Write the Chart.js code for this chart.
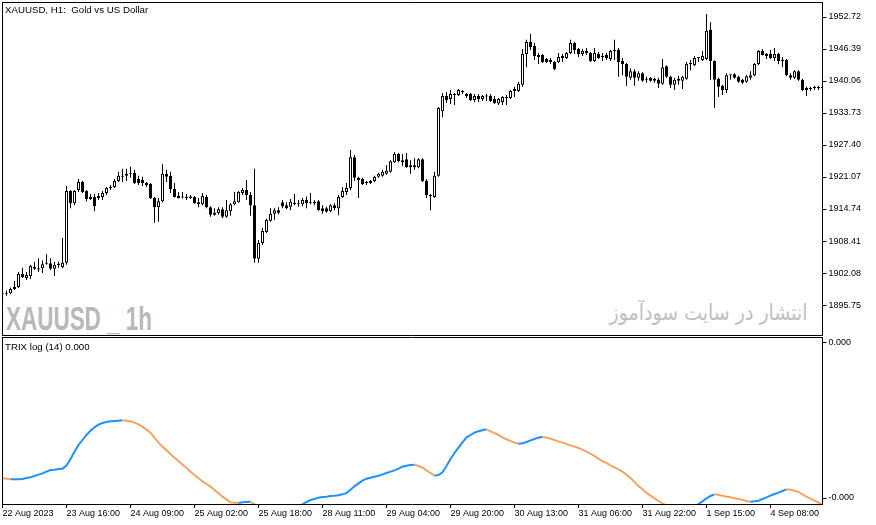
<!DOCTYPE html>
<html>
<head>
<meta charset="utf-8">
<title>XAUUSD H1 - TRIX</title>
<script src="https://cdn.jsdelivr.net/npm/chart.js@4.4.1/dist/chart.umd.min.js"></script>
<style>
    html, body { margin: 0; padding: 0; background: #fff; }
    #wrap { position: relative; width: 876px; height: 525px; overflow: hidden; font-family: "Liberation Sans", Arial, sans-serif; }
    #priceCanvas { position: absolute; left: 0; top: 0; }
    #trixCanvas { position: absolute; left: 0; top: 337px; }
    .txt { position: absolute; white-space: pre; color: #000; font-size: 9.7px; line-height: 12px; }
    .mark { position: absolute; white-space: pre; line-height: 1; }
    #markSymbol { left: 6px; top: 301px; font-size: 34px; font-weight: bold; color: #b8b8b8; transform-origin: left top; }
    #markSite { right: 68px; top: 302px; font-size: 22px; font-family: "DejaVu Sans", sans-serif; color: #c0c0c0; transform-origin: right top; }
</style>
</head>
<body>
<div id="wrap">
    <div class="mark" id="markSymbol">XAUUSD _ 1h</div>
    <div class="mark" id="markSite" dir="rtl">انتشار در سایت سودآموز</div>
    <canvas id="priceCanvas" width="876" height="337"></canvas>
    <canvas id="trixCanvas" width="876" height="188"></canvas>
    <div class="txt" style="left:5px; top:4px;">XAUUSD, H1:  Gold vs US Dollar</div>
    <div class="txt" style="left:5px; top:341px;">TRIX log (14) 0.000</div>
</div>
<script>
const xTickLabels = ["22 Aug 2023", "23 Aug 16:00", "24 Aug 09:00", "25 Aug 02:00", "25 Aug 18:00",
    "28 Aug 11:00", "29 Aug 04:00", "29 Aug 20:00", "30 Aug 13:00", "31 Aug 06:00",
    "31 Aug 22:00", "1 Sep 15:00", "4 Sep 08:00"];

const priceTicks = [1952.72, 1946.39, 1940.06, 1933.73, 1927.40, 1921.07, 1914.74, 1908.41, 1902.08, 1895.75];

const trixTickValues = [-0.000012, -0.000477];
const trixTickLabels = ["0.000", "-0.000"];

const openPrices = [
    1897.9, 1898.0, 1898.1, 1898.9, 1899.3, 1901.9, 1901.1, 1901.5, 1903.3, 1903.0,
    1903.0, 1904.1, 1904.0, 1902.9, 1903.6, 1903.2, 1904.1, 1918.3, 1915.9, 1918.5,
    1920.1, 1918.3, 1917.1, 1917.1, 1916.9, 1917.1, 1917.9, 1918.9, 1919.1, 1920.3,
    1921.1, 1921.3, 1921.7, 1921.9, 1920.7, 1920.5, 1919.9, 1919.7, 1916.9, 1915.1,
    1916.3, 1921.7, 1921.3, 1918.7, 1917.3, 1917.0, 1917.1, 1917.2, 1917.1, 1916.1,
    1915.7, 1917.1, 1915.1, 1914.0, 1913.9, 1914.7, 1913.2, 1914.3, 1915.7, 1916.1,
    1917.9, 1918.5, 1917.5, 1915.5, 1904.9, 1908.0, 1910.2, 1912.4, 1913.8, 1914.5,
    1916.1, 1915.5, 1915.2, 1916.0, 1915.7, 1915.7, 1916.5, 1916.0, 1916.2, 1916.3,
    1914.9, 1914.9, 1914.3, 1915.5, 1914.9, 1917.1, 1918.1, 1918.9, 1925.0, 1920.9,
    1920.7, 1919.9, 1919.9, 1920.3, 1921.1, 1921.3, 1921.7, 1922.1, 1924.0, 1925.6,
    1924.4, 1924.6, 1923.4, 1923.4, 1923.0, 1924.6, 1920.3, 1917.5, 1917.1, 1921.3,
    1934.1, 1937.1, 1936.5, 1937.3, 1937.3, 1938.1, 1937.5, 1937.5, 1936.3, 1937.1,
    1936.5, 1937.1, 1937.1, 1936.5, 1935.6, 1935.9, 1936.7, 1936.7, 1938.1, 1938.1,
    1939.3, 1945.4, 1947.8, 1947.0, 1945.2, 1945.2, 1944.4, 1944.2, 1943.8, 1943.8,
    1944.6, 1944.6, 1945.6, 1947.6, 1946.4, 1945.4, 1946.0, 1945.6, 1944.0, 1945.4,
    1944.8, 1945.2, 1944.4, 1946.0, 1946.2, 1944.0, 1943.4, 1940.7, 1942.0, 1940.7,
    1941.6, 1940.3, 1940.7, 1940.5, 1940.3, 1939.5, 1943.0, 1940.9, 1939.3, 1940.1,
    1940.1, 1940.5, 1943.4, 1943.2, 1944.6, 1944.2, 1944.4, 1950.2, 1944.0, 1940.5,
    1939.1, 1938.3, 1941.2, 1941.4, 1940.9, 1940.3, 1939.9, 1940.7, 1941.2, 1943.4,
    1946.0, 1945.4, 1945.4, 1944.6, 1945.4, 1944.2, 1944.2, 1941.2, 1940.7, 1942.0,
    1940.3, 1938.7, 1938.5, 1938.7, 1938.7, 1938.7
];

const highPrices = [
    1898.1, 1898.6, 1899.2, 1900.5, 1902.3, 1903.1, 1902.3, 1903.7, 1904.3, 1905.0,
    1904.6, 1905.8, 1905.0, 1904.3, 1904.3, 1909.0, 1919.3, 1918.5, 1918.5, 1920.7,
    1920.3, 1918.5, 1917.7, 1917.7, 1917.9, 1918.3, 1919.1, 1919.5, 1920.7, 1922.1,
    1922.7, 1922.7, 1923.1, 1922.5, 1921.3, 1921.1, 1920.1, 1919.9, 1917.1, 1916.9,
    1923.6, 1922.5, 1922.1, 1919.9, 1918.1, 1918.1, 1917.7, 1917.5, 1917.3, 1916.9,
    1917.9, 1917.5, 1915.3, 1914.9, 1915.1, 1915.1, 1916.5, 1915.9, 1918.1, 1918.3,
    1918.9, 1920.5, 1918.1, 1922.7, 1908.6, 1911.0, 1912.8, 1914.9, 1914.9, 1915.1,
    1916.5, 1916.1, 1916.7, 1917.7, 1916.5, 1916.9, 1917.2, 1917.9, 1916.5, 1916.5,
    1915.5, 1915.2, 1915.7, 1915.9, 1917.5, 1919.1, 1919.9, 1926.4, 1925.4, 1921.1,
    1920.9, 1920.3, 1920.5, 1921.3, 1921.9, 1922.5, 1923.4, 1924.4, 1926.0, 1925.8,
    1925.6, 1925.8, 1924.4, 1924.8, 1924.8, 1924.8, 1920.7, 1917.7, 1922.1, 1934.9,
    1937.7, 1937.9, 1938.3, 1937.7, 1938.5, 1938.3, 1937.7, 1937.7, 1937.5, 1937.5,
    1937.3, 1937.5, 1937.5, 1937.1, 1936.7, 1937.1, 1937.3, 1938.3, 1938.9, 1939.9,
    1946.4, 1948.2, 1949.4, 1947.6, 1945.6, 1945.4, 1944.6, 1944.6, 1944.0, 1945.6,
    1945.4, 1945.8, 1948.2, 1947.8, 1946.6, 1946.4, 1946.6, 1945.8, 1946.6, 1945.8,
    1945.6, 1945.6, 1946.2, 1948.2, 1946.6, 1944.6, 1943.6, 1942.6, 1942.4, 1942.0,
    1941.8, 1940.9, 1940.8, 1940.7, 1940.7, 1944.4, 1943.2, 1941.1, 1940.7, 1941.1,
    1941.1, 1943.8, 1944.2, 1945.0, 1944.7, 1946.0, 1953.3, 1951.7, 1944.1, 1940.7,
    1939.3, 1941.6, 1941.3, 1941.6, 1941.1, 1940.5, 1941.2, 1942.0, 1943.6, 1946.2,
    1946.4, 1945.6, 1946.2, 1946.6, 1945.6, 1944.8, 1944.4, 1941.6, 1942.2, 1942.2,
    1940.5, 1938.9, 1938.9, 1939.1, 1939.1, 1939.1
];

const lowPrices = [
    1897.7, 1897.6, 1897.9, 1898.7, 1899.1, 1901.1, 1900.7, 1900.9, 1902.7, 1902.3,
    1902.1, 1903.7, 1902.7, 1901.5, 1903.1, 1903.0, 1903.7, 1914.9, 1915.5, 1918.1,
    1917.9, 1916.3, 1916.5, 1914.3, 1916.5, 1916.5, 1917.5, 1918.5, 1918.9, 1920.1,
    1920.1, 1920.3, 1920.9, 1919.7, 1919.5, 1919.3, 1919.1, 1916.7, 1912.0, 1912.2,
    1916.1, 1920.1, 1917.9, 1917.0, 1916.8, 1916.8, 1916.5, 1916.7, 1915.8, 1915.1,
    1915.5, 1914.9, 1913.2, 1913.4, 1913.6, 1912.9, 1913.0, 1913.4, 1915.5, 1916.0,
    1917.5, 1916.5, 1913.4, 1904.1, 1904.1, 1907.6, 1910.0, 1912.2, 1912.6, 1913.7,
    1914.9, 1914.7, 1914.5, 1915.5, 1915.2, 1915.3, 1914.9, 1915.7, 1915.5, 1914.4,
    1913.8, 1914.0, 1914.1, 1914.5, 1913.5, 1916.9, 1917.5, 1918.5, 1920.3, 1916.9,
    1919.5, 1919.5, 1919.7, 1920.1, 1920.9, 1921.1, 1921.5, 1921.9, 1923.9, 1924.0,
    1923.2, 1922.9, 1921.7, 1922.5, 1922.8, 1920.1, 1916.9, 1914.5, 1916.9, 1921.1,
    1932.9, 1935.7, 1935.5, 1935.3, 1937.1, 1937.5, 1936.7, 1936.1, 1935.9, 1935.9,
    1936.1, 1936.1, 1935.9, 1935.5, 1935.3, 1935.3, 1935.3, 1936.5, 1936.9, 1937.9,
    1938.9, 1942.8, 1946.2, 1944.2, 1943.4, 1943.6, 1943.6, 1943.4, 1942.2, 1943.6,
    1943.8, 1944.4, 1945.4, 1945.4, 1944.8, 1945.0, 1945.2, 1943.8, 1943.8, 1944.4,
    1944.0, 1944.2, 1944.0, 1944.2, 1940.9, 1941.2, 1939.1, 1940.3, 1939.1, 1940.1,
    1939.9, 1939.7, 1939.9, 1939.7, 1938.7, 1939.3, 1940.7, 1938.7, 1938.3, 1939.3,
    1938.5, 1940.3, 1942.2, 1943.0, 1943.8, 1944.0, 1944.2, 1940.3, 1934.7, 1936.9,
    1937.3, 1937.7, 1940.3, 1940.5, 1939.7, 1939.5, 1939.7, 1940.3, 1941.0, 1943.2,
    1945.1, 1944.4, 1944.4, 1944.0, 1943.4, 1942.8, 1941.0, 1940.3, 1940.5, 1940.1,
    1938.1, 1937.1, 1938.1, 1938.3, 1938.3, 1938.3
];

const closePrices = [
    1898.0, 1898.2, 1898.9, 1899.3, 1901.9, 1901.3, 1901.7, 1903.5, 1902.9, 1902.8,
    1903.8, 1903.9, 1902.9, 1903.7, 1903.9, 1904.1, 1918.3, 1915.9, 1918.3, 1920.1,
    1918.1, 1916.7, 1916.7, 1915.3, 1917.3, 1917.9, 1918.9, 1919.1, 1920.3, 1921.3,
    1921.3, 1921.7, 1921.9, 1919.9, 1919.9, 1919.9, 1919.5, 1916.9, 1915.1, 1916.3,
    1921.7, 1921.1, 1918.7, 1917.1, 1916.9, 1917.1, 1916.9, 1916.9, 1915.9, 1915.7,
    1917.3, 1915.1, 1913.6, 1913.6, 1914.7, 1913.2, 1914.5, 1915.7, 1916.3, 1918.1,
    1918.5, 1917.5, 1915.5, 1904.9, 1908.0, 1910.4, 1912.6, 1913.8, 1914.5, 1914.0,
    1915.3, 1914.9, 1916.2, 1915.7, 1915.7, 1916.5, 1915.9, 1916.1, 1915.9, 1914.5,
    1914.3, 1914.2, 1915.5, 1914.9, 1917.1, 1918.3, 1918.9, 1925.0, 1920.9, 1920.5,
    1919.7, 1919.9, 1920.3, 1921.1, 1921.7, 1922.1, 1922.3, 1924.2, 1925.6, 1924.2,
    1924.0, 1923.0, 1923.0, 1923.0, 1924.6, 1920.3, 1917.5, 1917.3, 1921.3, 1934.7,
    1937.1, 1936.3, 1937.5, 1937.5, 1938.3, 1937.9, 1937.1, 1936.3, 1937.1, 1936.5,
    1937.1, 1937.0, 1936.1, 1935.7, 1936.5, 1936.9, 1936.9, 1938.1, 1938.5, 1939.5,
    1945.4, 1947.8, 1946.8, 1945.0, 1944.8, 1943.8, 1943.8, 1943.8, 1942.4, 1944.8,
    1945.0, 1945.6, 1947.6, 1946.2, 1945.4, 1946.0, 1945.6, 1944.0, 1945.6, 1944.6,
    1945.0, 1944.6, 1946.0, 1946.1, 1943.8, 1943.4, 1940.9, 1942.0, 1940.7, 1941.6,
    1940.1, 1940.3, 1940.1, 1940.1, 1939.5, 1942.8, 1940.9, 1939.3, 1940.3, 1940.5,
    1940.9, 1943.4, 1943.6, 1944.6, 1944.6, 1945.0, 1950.0, 1944.0, 1940.3, 1938.9,
    1938.3, 1941.2, 1941.2, 1940.7, 1939.9, 1939.7, 1941.0, 1941.2, 1943.4, 1946.0,
    1945.2, 1945.0, 1944.6, 1945.4, 1944.0, 1944.0, 1941.2, 1940.7, 1942.0, 1940.3,
    1938.3, 1938.3, 1938.7, 1938.7, 1938.7, 1938.7
];

const trixValues = [
    -0.000417, -0.000419, -0.000421, -0.000421, -0.000421, -0.000420, -0.000417, -0.000415, -0.000411, -0.000407,
    -0.000403, -0.000398, -0.000393, -0.000392, -0.000390, -0.000389, -0.000380, -0.000360, -0.000338, -0.000318,
    -0.000303, -0.000288, -0.000275, -0.000265, -0.000257, -0.000252, -0.000249, -0.000247, -0.000246, -0.000245,
    -0.000244, -0.000245, -0.000247, -0.000251, -0.000256, -0.000263, -0.000272, -0.000281, -0.000296, -0.000311,
    -0.000323, -0.000334, -0.000345, -0.000356, -0.000366, -0.000377, -0.000387, -0.000398, -0.000408, -0.000418,
    -0.000427, -0.000435, -0.000443, -0.000453, -0.000463, -0.000473, -0.000481, -0.000490, -0.000491, -0.000492,
    -0.000490, -0.000489, -0.000488, -0.000496, -0.000504, -0.000513, -0.000522, -0.000528, -0.000531, -0.000533,
    -0.000531, -0.000525, -0.000516, -0.000507, -0.000500, -0.000496, -0.000489, -0.000483, -0.000480, -0.000476,
    -0.000474, -0.000473, -0.000471, -0.000470, -0.000469, -0.000466, -0.000462, -0.000452, -0.000442, -0.000433,
    -0.000425, -0.000419, -0.000416, -0.000413, -0.000410, -0.000406, -0.000402, -0.000398, -0.000394, -0.000389,
    -0.000383, -0.000380, -0.000378, -0.000377, -0.000381, -0.000386, -0.000394, -0.000402, -0.000410, -0.000408,
    -0.000400, -0.000381, -0.000360, -0.000342, -0.000326, -0.000310, -0.000295, -0.000288, -0.000281, -0.000277,
    -0.000274, -0.000271, -0.000277, -0.000282, -0.000288, -0.000295, -0.000301, -0.000306, -0.000311, -0.000314,
    -0.000313, -0.000309, -0.000304, -0.000300, -0.000296, -0.000293, -0.000296, -0.000299, -0.000303, -0.000307,
    -0.000311, -0.000315, -0.000319, -0.000323, -0.000327, -0.000332, -0.000338, -0.000344, -0.000351, -0.000359,
    -0.000366, -0.000372, -0.000379, -0.000385, -0.000391, -0.000398, -0.000407, -0.000417, -0.000429, -0.000441,
    -0.000451, -0.000461, -0.000470, -0.000478, -0.000486, -0.000493, -0.000500, -0.000507, -0.000513, -0.000516,
    -0.000518, -0.000516, -0.000512, -0.000504, -0.000495, -0.000487, -0.000478, -0.000471, -0.000466, -0.000467,
    -0.000470, -0.000473, -0.000475, -0.000478, -0.000480, -0.000483, -0.000486, -0.000488, -0.000487, -0.000485,
    -0.000480, -0.000475, -0.000470, -0.000465, -0.000461, -0.000456, -0.000451, -0.000452, -0.000455, -0.000459,
    -0.000466, -0.000473, -0.000479, -0.000485, -0.000491, -0.000497
];

const trixUpColor = "#1E90FF";
const trixDownColor = "#F4A460";

Chart.defaults.font.family = '"Liberation Sans", Arial, sans-serif';
Chart.defaults.font.size = 9;
Chart.defaults.color = "#000";

// squeeze the watermark texts to the width they take in the terminal
function fitWidth(id, width) {
    var el = document.getElementById(id);
    var w = el.getBoundingClientRect().width;
    el.style.transform = "scaleX(" + (width / w) + ")";
}
fitWidth("markSymbol", 146);
fitWidth("markSite", 198);

var barIndex = openPrices.map(function (v, i) { return i; });
var bodies = openPrices.map(function (o, i) { return [o, closePrices[i]]; });
var wicks = lowPrices.map(function (l, i) { return [l, highPrices[i]]; });

// axes get a fixed size and no extra room for their labels
function fixedWidth(scale) {
    scale.width = 53.5;
    scale.paddingTop = 0;
    scale.paddingBottom = 0;
}

function fixedHeight(scale) {
    scale.height = 21;
    scale.paddingLeft = 0;
    scale.paddingRight = 0;
}

// frame of each pane (left, top and optional bottom edge)
var paneBorder = {
    id: "paneBorder",
    afterDraw: function (chart, args, opts) {
        var ctx = chart.ctx;
        var area = chart.chartArea;
        ctx.save();
        ctx.strokeStyle = "#000";
        ctx.lineWidth = 1;
        ctx.beginPath();
        ctx.moveTo(2, opts.top);
        ctx.lineTo(area.right + 0.5, opts.top);
        ctx.moveTo(2.5, opts.top);
        ctx.lineTo(2.5, opts.bottom);
        if (opts.closeBottom) {
            ctx.moveTo(2, opts.bottom);
            ctx.lineTo(area.right + 0.5, opts.bottom);
        }
        ctx.stroke();
        ctx.restore();
    }
};

new Chart(document.getElementById("priceCanvas"), {
    type: "bar",
    data: {
        labels: barIndex,
        datasets: [
            {
                label: "Body",
                data: bodies,
                grouped: false,
                categoryPercentage: 1,
                barPercentage: 0.75,
                minBarLength: 1,
                inflateAmount: 0,
                borderSkipped: false,
                borderWidth: 1,
                borderColor: "#000",
                backgroundColor: function (ctx) {
                    return closePrices[ctx.dataIndex] >= openPrices[ctx.dataIndex] ? "#fff" : "#000";
                }
            },
            {
                label: "Wick",
                data: wicks,
                grouped: false,
                categoryPercentage: 1,
                barPercentage: 0.25,
                inflateAmount: 0,
                borderWidth: 0,
                backgroundColor: "#000"
            }
        ]
    },
    options: {
        responsive: false,
        animation: false,
        events: [],
        layout: { padding: { left: 2.5, top: 3, right: 0, bottom: 2 } },
        plugins: {
            legend: { display: false },
            tooltip: { enabled: false },
            paneBorder: { top: 2.5, bottom: 335.5, closeBottom: true }
        },
        scales: {
            x: { type: "category", offset: false, display: false },
            y: {
                position: "right",
                min: 1889.82,
                max: 1955.49,
                afterBuildTicks: function (scale) {
                    scale.ticks = priceTicks.map(function (v) { return { value: v }; });
                },
                afterFit: fixedWidth,
                grid: { drawOnChartArea: false, tickLength: 4, color: "#000" },
                border: { color: "#000" },
                ticks: {
                    padding: 2,
                    callback: function (v) { return v.toFixed(2); }
                }
            }
        }
    },
    plugins: [paneBorder]
});

new Chart(document.getElementById("trixCanvas"), {
    type: "line",
    data: {
        labels: barIndex,
        datasets: [{
            label: "TRIX log (14)",
            data: trixValues,
            borderWidth: 2,
            pointRadius: 0,
            clip: 0,
            borderColor: trixUpColor,
            segment: {
                borderColor: function (ctx) {
                    return ctx.p1.parsed.y >= ctx.p0.parsed.y ? trixUpColor : trixDownColor;
                }
            }
        }]
    },
    options: {
        responsive: false,
        animation: false,
        events: [],
        layout: { padding: { left: 2.5, top: 1, right: 0, bottom: 0 } },
        plugins: {
            legend: { display: false },
            tooltip: { enabled: false },
            paneBorder: { top: 0.5, bottom: 167, closeBottom: false }
        },
        scales: {
            x: {
                type: "category",
                offset: false,
                afterBuildTicks: function (scale) {
                    scale.ticks = xTickLabels.map(function (l, j) { return { value: j * 16 }; });
                },
                afterFit: fixedHeight,
                grid: { drawOnChartArea: false, tickLength: 4, color: "#000" },
                border: { color: "#000" },
                ticks: {
                    autoSkip: false,
                    maxRotation: 0,
                    align: "start",
                    padding: 0,
                    callback: function (v, i) { return xTickLabels[i]; }
                }
            },
            y: {
                position: "right",
                min: -0.000495,
                max: 0.000003,
                afterBuildTicks: function (scale) {
                    scale.ticks = trixTickValues.map(function (v) { return { value: v }; });
                },
                afterFit: fixedWidth,
                grid: { drawOnChartArea: false, tickLength: 4, color: "#000" },
                border: { color: "#000" },
                ticks: {
                    padding: 2,
                    callback: function (v, i) { return trixTickLabels[i]; }
                }
            }
        }
    },
    plugins: [paneBorder]
});
</script>
</body>
</html>
